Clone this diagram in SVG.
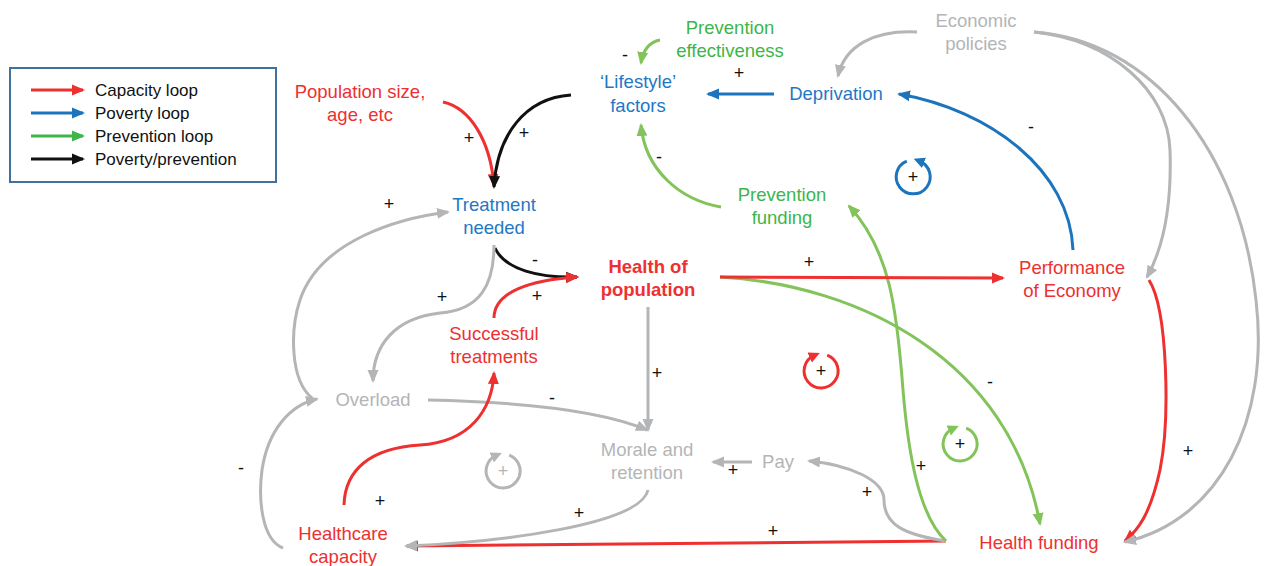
<svg xmlns="http://www.w3.org/2000/svg" width="1266" height="566" viewBox="0 0 1266 566">
<style>
text{font-family:"Liberation Sans",Arial,sans-serif;}
.n{font-size:18.5px;text-anchor:middle;}
.red{fill:#EE3030;}
.blue{fill:#1F78C4;}
.green{fill:#3DB54A;}
.gray{fill:#B3B5B7;}
.b{font-weight:bold;}
.s{font-size:18px;text-anchor:middle;fill:#111;}
.lg{font-size:17px;fill:#111;}
.c{fill:none;stroke-width:3;}
.cr{stroke:#EE3030;marker-end:url(#aR);}
.cb{stroke:#1C75BC;marker-end:url(#aB);}
.cg{stroke:#82C35A;marker-end:url(#aG);}
.ck{stroke:#111;marker-end:url(#aK);}
.cy{stroke:#B3B5B7;marker-end:url(#aY);}
.lp{fill:none;stroke-width:3;}
</style>
<defs>
<marker id="aR" markerUnits="userSpaceOnUse" markerWidth="14" markerHeight="12" refX="11" refY="6" orient="auto"><path d="M0,0.5 L13,6 L0,11.5 z" fill="#EE3030"/></marker>
<marker id="aB" markerUnits="userSpaceOnUse" markerWidth="14" markerHeight="12" refX="11" refY="6" orient="auto"><path d="M0,0.5 L13,6 L0,11.5 z" fill="#1C75BC"/></marker>
<marker id="aG" markerUnits="userSpaceOnUse" markerWidth="14" markerHeight="12" refX="11" refY="6" orient="auto"><path d="M0,0.5 L13,6 L0,11.5 z" fill="#82C35A"/></marker>
<marker id="aL" markerUnits="userSpaceOnUse" markerWidth="14" markerHeight="12" refX="11" refY="6" orient="auto"><path d="M0,0.5 L13,6 L0,11.5 z" fill="#3DB54A"/></marker>
<marker id="aK" markerUnits="userSpaceOnUse" markerWidth="14" markerHeight="12" refX="11" refY="6" orient="auto"><path d="M0,0.5 L13,6 L0,11.5 z" fill="#111"/></marker>
<marker id="aY" markerUnits="userSpaceOnUse" markerWidth="14" markerHeight="12" refX="11" refY="6" orient="auto"><path d="M0,0.5 L13,6 L0,11.5 z" fill="#B3B5B7"/></marker>
<marker id="lB" markerUnits="userSpaceOnUse" markerWidth="12" markerHeight="11" refX="5" refY="5.5" orient="auto"><path d="M0,0 L11,5.5 L0,11 z" fill="#1C75BC"/></marker>
<marker id="lR" markerUnits="userSpaceOnUse" markerWidth="12" markerHeight="11" refX="5" refY="5.5" orient="auto"><path d="M0,0 L11,5.5 L0,11 z" fill="#EE3030"/></marker>
<marker id="lG" markerUnits="userSpaceOnUse" markerWidth="12" markerHeight="11" refX="5" refY="5.5" orient="auto"><path d="M0,0 L11,5.5 L0,11 z" fill="#82C35A"/></marker>
<marker id="lY" markerUnits="userSpaceOnUse" markerWidth="12" markerHeight="11" refX="5" refY="5.5" orient="auto"><path d="M0,0 L11,5.5 L0,11 z" fill="#B3B5B7"/></marker>
</defs>
<rect width="1266" height="566" fill="#fff"/>

<g id="legend">
<rect x="10" y="68" width="266" height="114" fill="#fff" stroke="#41719C" stroke-width="2"/>
<line x1="31" y1="90" x2="83" y2="90" class="c" stroke="#EE3030" marker-end="url(#aR)"/>
<line x1="31" y1="113" x2="83" y2="113" class="c" stroke="#1C75BC" marker-end="url(#aB)"/>
<line x1="31" y1="136" x2="83" y2="136" class="c" stroke="#3DB54A" marker-end="url(#aL)"/>
<line x1="31" y1="159" x2="83" y2="159" class="c" stroke="#111" marker-end="url(#aK)"/>
<text x="95" y="96" class="lg">Capacity loop</text>
<text x="95" y="119" class="lg">Poverty loop</text>
<text x="95" y="142" class="lg">Prevention loop</text>
<text x="95" y="165" class="lg">Poverty/prevention</text>
</g>

<g id="connectors">
<path class="c cr" d="M443,102 C470,108 490,140 494,185"/>
<path class="c ck" d="M571,95 C525,98 497,135 494,187"/>
<path class="c cg" d="M660,40 C650,42 643,50 641,63"/>
<path class="c cb" d="M774,94 L708,94"/>
<path class="c cy" d="M917,32 C875,30 845,45 838,76"/>
<path class="c cy" d="M1034,32 C1110,40 1168,90 1170,150 C1172,210 1162,250 1147,277"/>
<path class="c cr" d="M1149,280 C1168,310 1170,420 1160,470 C1150,515 1138,530 1125,541"/>
<path class="c cy" d="M1034,32 C1150,40 1240,150 1256,300 C1270,420 1220,520 1125,542"/>
<path class="c cb" d="M1073,250 C1070,170 990,110 899,94"/>
<path class="c cg" d="M721,207 C680,200 645,170 641,125"/>
<path class="c ck" d="M495,248 C505,270 540,278 577,277"/>
<path class="c cr" d="M494,318 C494,292 530,280 577,277"/>
<path class="c cy" d="M494,245 C494,285 480,310 440,313 C395,318 373,345 373,381"/>
<path class="c cy" d="M312,398 C290,380 290,330 300,300 C320,240 400,218 448,212"/>
<path class="c cy" d="M283,548 C262,540 258,500 262,470 C268,430 290,405 317,399"/>
<path class="c cy" d="M428,400 C520,402 600,410 647,430"/>
<path class="c cy" d="M648,307 L648,430"/>
<path class="c cr" d="M946,541 L407,546"/>
<path class="c cy" d="M648,490 C640,525 500,542 406,546"/>
<path class="c cr" d="M344,505 C345,470 370,448 420,445 C470,442 492,410 494,373"/>
<path class="c cy" d="M752,462 L713,462"/>
<path class="c cy" d="M946,541 C905,535 884,525 884,500 C884,480 850,465 809,461"/>
<path class="c cg" d="M946,541 C918,515 908,450 903,390 C897,310 890,250 849,206"/>
<path class="c cg" d="M720,277 C860,285 1010,360 1040,524"/>
<path class="c cr" d="M720,277 L1003,278"/>
</g>

<g id="signs">
<text x="469" y="144" class="s">+</text>
<text x="524" y="139" class="s">+</text>
<text x="625" y="61" class="s">-</text>
<text x="739" y="79" class="s">+</text>
<text x="1031" y="133" class="s">-</text>
<text x="659" y="163" class="s">-</text>
<text x="389" y="210" class="s">+</text>
<text x="535" y="266" class="s">-</text>
<text x="442" y="303" class="s">+</text>
<text x="537" y="302" class="s">+</text>
<text x="809" y="268" class="s">+</text>
<text x="657" y="379" class="s">+</text>
<text x="552" y="404" class="s">-</text>
<text x="990" y="388" class="s">-</text>
<text x="241" y="474" class="s">-</text>
<text x="380" y="507" class="s">+</text>
<text x="579" y="519" class="s">+</text>
<text x="733" y="476" class="s">+</text>
<text x="867" y="498" class="s">+</text>
<text x="921" y="472" class="s">+</text>
<text x="773" y="537" class="s">+</text>
<text x="1188" y="457" class="s">+</text>
</g>

<g id="loops">
<path class="lp" stroke="#1C75BC" marker-end="url(#lB)" d="M906.8,161.1 A17,17 0 1 0 919.3,161.0"/>
<text x="913" y="183" class="s">+</text>
<path class="lp" stroke="#EE3030" marker-end="url(#lR)" d="M827.2,355.1 A17,17 0 1 1 814.3,355.4"/>
<text x="821" y="377" class="s">+</text>
<path class="lp" stroke="#82C35A" marker-end="url(#lG)" d="M966.2,428.1 A17,17 0 1 1 953.3,428.4"/>
<text x="960" y="450" class="s">+</text>
<path class="lp" stroke="#B3B5B7" marker-end="url(#lY)" d="M509.2,455.1 A17,17 0 1 1 496.3,455.4"/>
<text x="503" y="477" class="s" style="fill:#B3B5B7">+</text>
</g>

<g id="node-population"><text class="n red" x="360" y="98">Population size,</text><text class="n red" x="360" y="121">age, etc</text></g>
<g id="node-lifestyle"><text class="n blue" x="638" y="88">‘Lifestyle’</text><text class="n blue" x="638" y="112">factors</text></g>
<g id="node-prevention-effectiveness"><text class="n green" x="730" y="34">Prevention</text><text class="n green" x="730" y="57">effectiveness</text></g>
<g id="node-economic-policies"><text class="n gray" x="976" y="27">Economic</text><text class="n gray" x="976" y="50">policies</text></g>
<g id="node-deprivation"><text class="n blue" x="836" y="100">Deprivation</text></g>
<g id="node-treatment-needed"><text class="n blue" x="494" y="211">Treatment</text><text class="n blue" x="494" y="234">needed</text></g>
<g id="node-health-of-population"><text class="n red b" x="648" y="273">Health of</text><text class="n red b" x="648" y="296">population</text></g>
<g id="node-prevention-funding"><text class="n green" x="782" y="201">Prevention</text><text class="n green" x="782" y="224">funding</text></g>
<g id="node-performance"><text class="n red" x="1072" y="274">Performance</text><text class="n red" x="1072" y="297">of Economy</text></g>
<g id="node-successful-treatments"><text class="n red" x="494" y="340">Successful</text><text class="n red" x="494" y="363">treatments</text></g>
<g id="node-overload"><text class="n gray" x="373" y="406">Overload</text></g>
<g id="node-morale"><text class="n gray" x="647" y="456">Morale and</text><text class="n gray" x="647" y="479">retention</text></g>
<g id="node-pay"><text class="n gray" x="778" y="468">Pay</text></g>
<g id="node-healthcare-capacity"><text class="n red" x="343" y="540">Healthcare</text><text class="n red" x="343" y="563">capacity</text></g>
<g id="node-health-funding"><text class="n red" x="1039" y="549">Health funding</text></g>
</svg>
